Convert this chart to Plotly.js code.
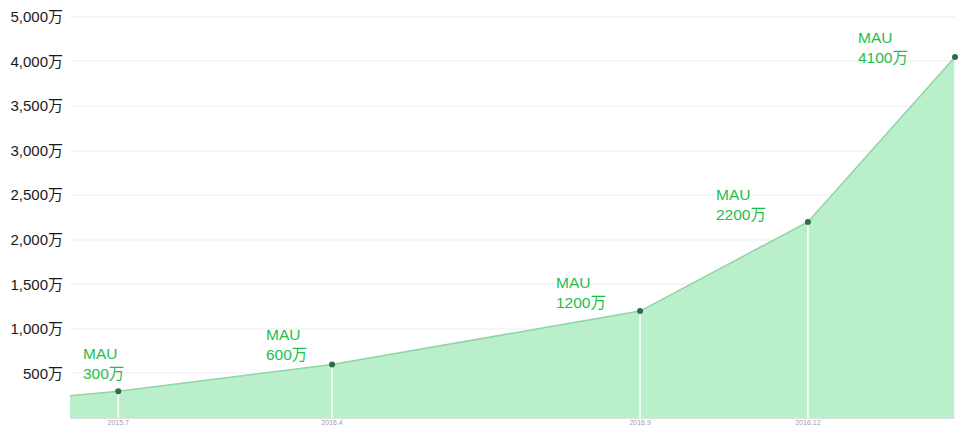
<!DOCTYPE html>
<html>
<head>
<meta charset="utf-8">
<script src="https://cdn.plot.ly/plotly-3.0.1.min.js"></script>
<style>html,body{margin:0;padding:0;background:#fff;}#chart{width:958px;height:427px;}</style>
</head>
<body>
<div id="chart"></div>
<script>
// Data
const areaX = [0, 4.2, 22.8, 49.6, 64.2, 77];      // time position (relative units)
const areaY = [250, 300, 600, 1200, 2200, 4050];   // MAU (万) as drawn
const pointX = [4.2, 22.8, 49.6, 64.2, 77];
const pointY = [300, 600, 1200, 2200, 4050];
const pointLabels = ['300万', '600万', '1200万', '2200万', '4100万'];
const xTickLabels = ['2015.7', '2016.4', '2016.9', '2016.12', '2017.3'];
const yTickVals = [500, 1000, 1500, 2000, 2500, 3000, 3500, 4000, 4500];
const yTickText = ['500万', '1,000万', '1,500万', '2,000万', '2,500万', '3,000万', '3,500万', '4,000万', '5,000万'];

// Styles (label offsets in px)
const labelXShift = [-37, -68, -86, -94, -99];
const labelYShift = [7, 0, -2, -3, -11];

const traces = [
  {
    x: areaX, y: areaY, type: 'scatter', mode: 'lines',
    fill: 'tozeroy', fillcolor: 'rgb(186,239,203)',
    line: {color: 'rgb(145,212,166)', width: 1.5},
    hoverinfo: 'skip', showlegend: false
  },
  {
    x: pointX, y: pointY, type: 'scatter', mode: 'markers',
    marker: {color: 'rgb(45,110,70)', size: 6},
    error_y: {type: 'data', symmetric: false, array: pointY.map(() => 0), arrayminus: pointY, color: '#ffffff', thickness: 1.5, width: 0},
    cliponaxis: false, showlegend: false
  }
];

const annotations = pointX.map((x, i) => ({
  x: x, y: pointY[i], xref: 'x', yref: 'y',
  text: 'MAU<br>' + pointLabels[i],
  showarrow: false, xanchor: 'left', yanchor: 'bottom', align: 'left',
  xshift: labelXShift[i], yshift: labelYShift[i],
  font: {family: 'Liberation Sans, Arial, Noto Sans CJK SC, sans-serif', size: 15.5, color: 'rgb(30,190,75)'}
}));

const layout = {
  width: 958, height: 427,
  margin: {l: 70, r: 3, t: 8, b: 9},
  paper_bgcolor: '#ffffff', plot_bgcolor: '#ffffff',
  showlegend: false,
  font: {family: 'Liberation Sans, Arial, Noto Sans CJK SC, sans-serif', color: '#222'},
  xaxis: {
    range: [0, 77], showgrid: false, zeroline: false,
    tickvals: pointX, ticktext: xTickLabels,
    tickfont: {size: 7, color: '#a0a0a0'},
    showline: true, linecolor: '#e2e2e2', linewidth: 1,
    ticks: '', automargin: false, ticklabelstandoff: -2
  },
  yaxis: {
    range: [0, 4600], tickvals: yTickVals, ticktext: yTickText,
    showgrid: true, gridcolor: '#f6f6f6', gridwidth: 2,
    zeroline: false, ticks: '', automargin: false, ticklabelstandoff: 6,
    tickfont: {size: 15, color: '#1a1a1a'}
  },
  annotations: annotations
};

Plotly.newPlot('chart', traces, layout, {displayModeBar: false, staticPlot: true});
</script>
</body>
</html>
